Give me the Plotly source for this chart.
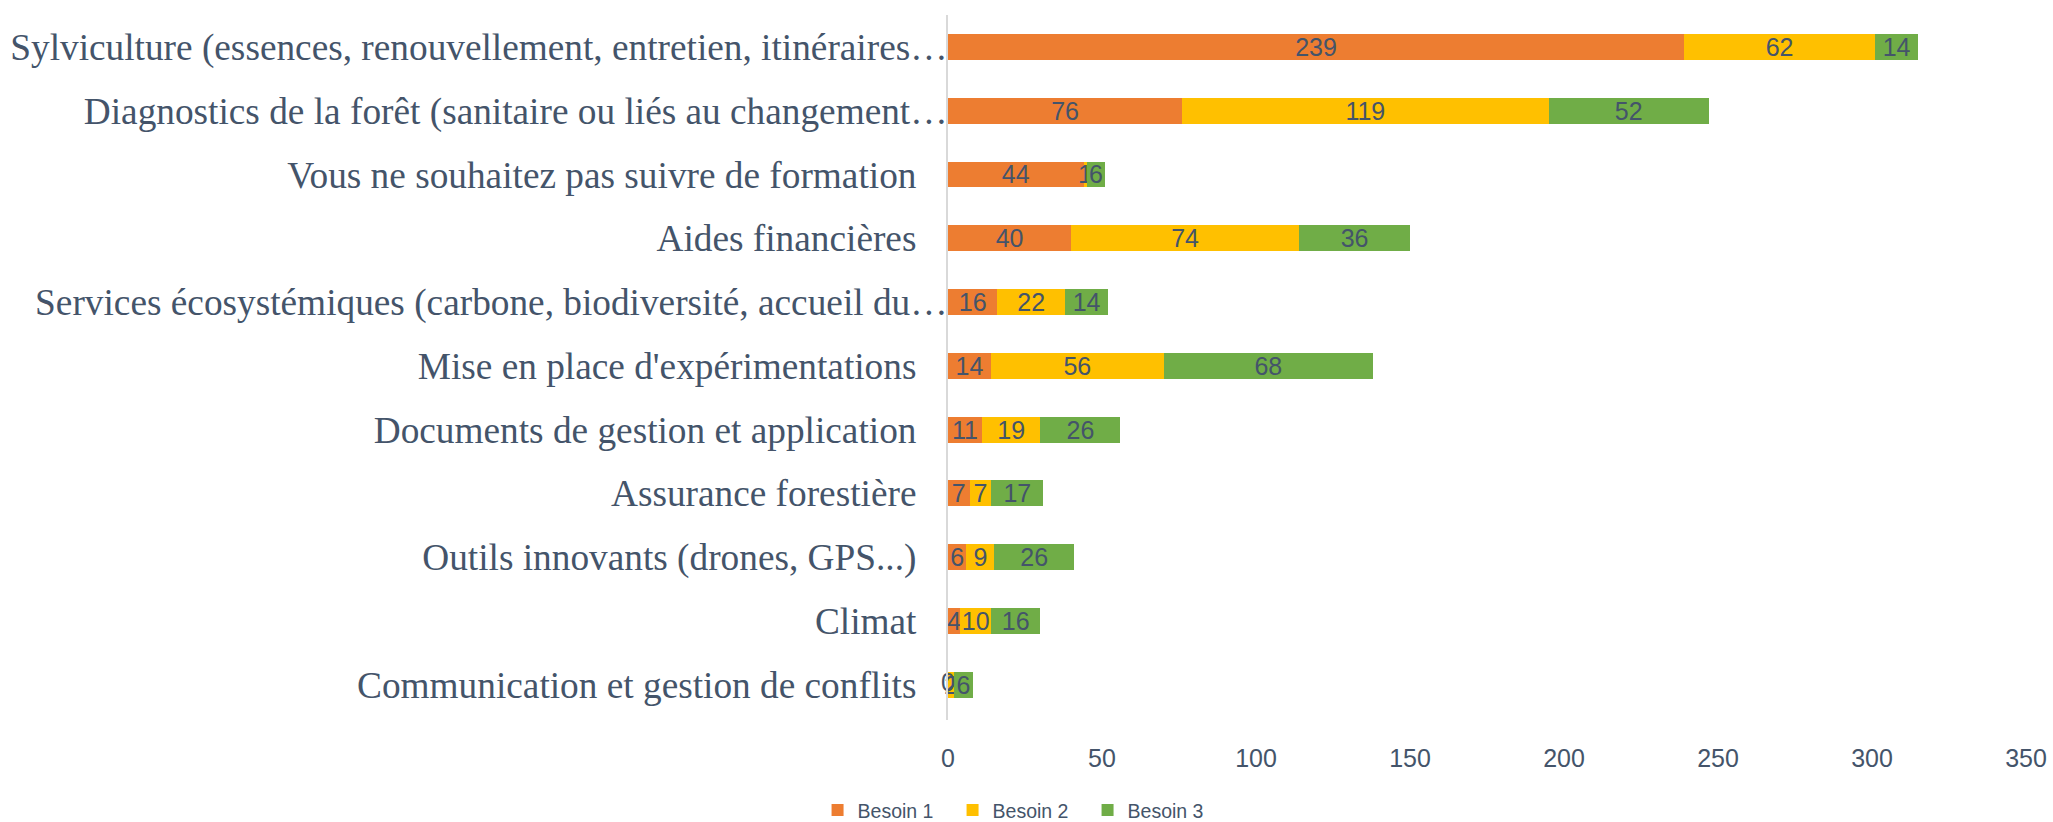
import plotly.graph_objects as go

categories = [
    "Sylviculture (essences, renouvellement, entretien, itinéraires…",
    "Diagnostics de la forêt (sanitaire ou liés au changement…",
    "Vous ne souhaitez pas suivre de formation",
    "Aides financières",
    "Services écosystémiques (carbone, biodiversité, accueil du…",
    "Mise en place d'expérimentations",
    "Documents de gestion et application",
    "Assurance forestière",
    "Outils innovants (drones, GPS...)",
    "Climat",
    "Communication et gestion de conflits",
]
besoin1 = [239, 76, 44, 40, 16, 14, 11, 7, 6, 4, 0]
besoin2 = [62, 119, 1, 74, 22, 56, 19, 7, 9, 10, 2]
besoin3 = [14, 52, 6, 36, 14, 68, 26, 17, 26, 16, 6]
x_ticks = [0, 50, 100, 150, 200, 250, 300, 350]

series = [("Besoin 1", besoin1, "#ED7D31"),
          ("Besoin 2", besoin2, "#FFC000"),
          ("Besoin 3", besoin3, "#70AD47")]

txt = "#44546A"
sans = "Liberation Sans, Arial, sans-serif"
serif = "Liberation Serif, Times New Roman, serif"

# labels cut by Excel sit right up against the axis, the others leave a gap
pad = "\u00a0" * 3 + "\u200a"
shown = [c if c.endswith("…") else c + pad for c in categories]

fig = go.Figure()
base = [0] * len(categories)
for name, vals, col in series:
    fig.add_trace(go.Bar(
        y=shown, x=vals, name=name, orientation="h",
        marker=dict(color=col, line=dict(width=0)),
        text=[str(v) for v in vals], textposition="inside",
        insidetextanchor="middle", textangle=0, constraintext="none",
        insidetextfont=dict(family=sans, size=25, color=txt),
        cliponaxis=False,
    ))
    # zero-length segments get no text from plotly, Excel still prints "0"
    zx = [b for b, v in zip(base, vals) if v == 0]
    zy = [s for s, v in zip(shown, vals) if v == 0]
    if zx:
        fig.add_trace(go.Scatter(x=zx, y=zy, mode="text", text=["0"] * len(zx),
                                 textfont=dict(family=sans, size=25, color=txt),
                                 showlegend=False, hoverinfo="skip", cliponaxis=False))
    base = [b + v for b, v in zip(base, vals)]

fig.update_layout(
    barmode="stack", bargap=0.594,
    width=2053, height=822,
    margin=dict(l=948, r=27, t=15, b=102, autoexpand=False),
    plot_bgcolor="white", paper_bgcolor="white",
    showlegend=True,
    legend=dict(orientation="h", x=-0.121, xanchor="left", y=-0.128, yanchor="middle",
                entrywidth=90, font=dict(family=sans, size=19.5, color=txt),
                traceorder="normal"),
)
fig.update_yaxes(type="category", autorange="reversed", showline=True,
                 linecolor="#D9D9D9", linewidth=2, ticks="", showgrid=False,
                 tickfont=dict(family=serif, size=37.3, color=txt), ticklabelstandoff=-9)
fig.update_xaxes(range=[0, 350], tickvals=x_ticks, showgrid=False, zeroline=False,
                 showline=False, ticks="", ticklabeloverflow="allow",
                 tickfont=dict(family=sans, size=25, color=txt), ticklabelstandoff=21)

# drop the default 8px body margin so the figure fills the window exactly
fig.write_html("out.html", config={"displayModeBar": False},
               post_script="document.body.style.margin = '0';")
